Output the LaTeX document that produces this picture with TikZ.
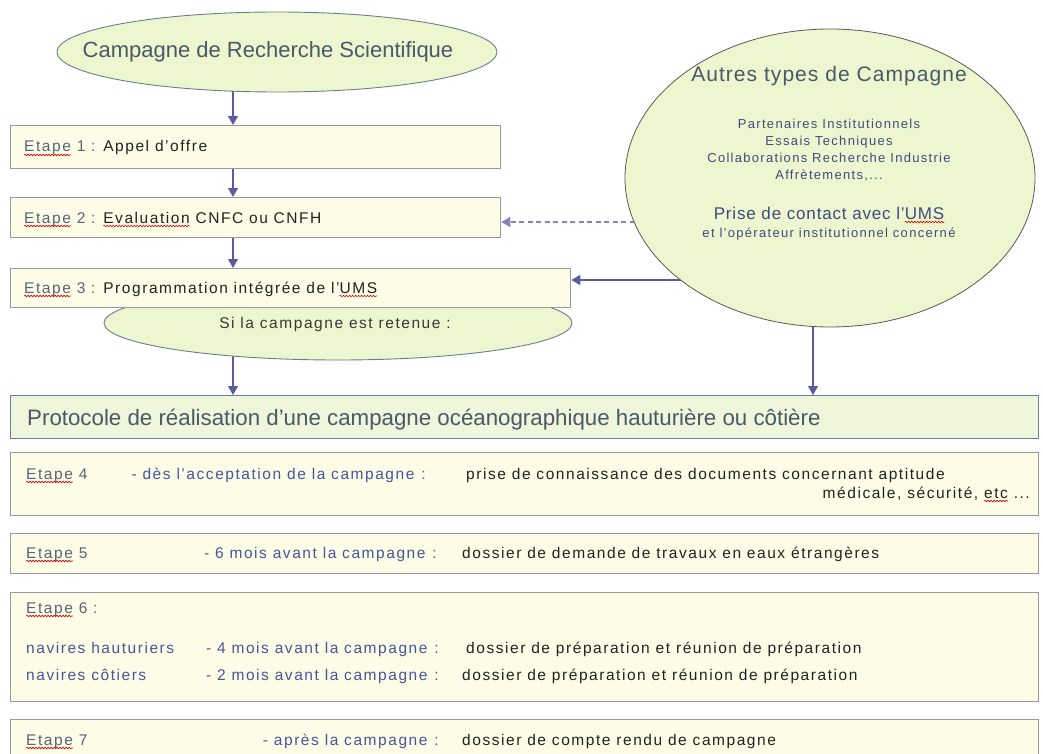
\documentclass[tikz,border=0pt]{standalone}
\usepackage{fontspec}
\setmainfont{Liberation Sans}
\newfontfamily\widefont[LetterSpace=10]{Liberation Sans}
\newfontfamily\midfont[LetterSpace=5]{Liberation Sans}
\usetikzlibrary{calc,shapes.geometric,arrows.meta,backgrounds,decorations.pathmorphing}

\definecolor{boxfill}{HTML}{FDFDE7}
\definecolor{boxline}{HTML}{9A9A9A}
\definecolor{ovalfill}{HTML}{EEF6CF}
\definecolor{ovalline}{HTML}{6E7D8C}
\definecolor{protofill}{HTML}{EFF6DC}
\definecolor{protoline}{HTML}{6D7AA6}
\definecolor{arrowcol}{HTML}{5B5B9E}
\definecolor{titletext}{HTML}{4A5868}
\definecolor{steptext}{HTML}{56657A}
\definecolor{whentext}{HTML}{46569A}
\definecolor{bodytext}{HTML}{222222}

% red wavy spell-check mark
\newsavebox\spellbox
\newlength\spellwd
\newcommand\spell[1]{\sbox\spellbox{#1}\setlength\spellwd{\wd\spellbox}%
  \rlap{\tikz[overlay]\draw[red!85!black, line width=.6pt, decorate,
    decoration={snake, amplitude=.8pt, segment length=3pt}]
    (0pt,-3pt) -- (\spellwd,-3pt);}\usebox\spellbox}
% gap before the colon of the time column
\newcommand\colgap{\hspace{7pt}:}

\tikzset{
  stepbox/.style={rectangle, draw=boxline, line width=1.3pt, fill=boxfill,
    anchor=north west, inner sep=0pt},
  protobox/.style={rectangle, draw=protoline, line width=1.1pt, fill=protofill,
    anchor=north west, inner sep=0pt},
  oval/.style={ellipse, draw=ovalline, line width=.9pt, fill=ovalfill, inner sep=0pt},
  flow/.style={draw=arrowcol, line width=1.2pt,
    -{Triangle[length=9pt,width=10pt]}},
  hint/.style={flow, draw=arrowcol!75, dash pattern=on 5pt off 3.5pt},
  big/.style={font=\fontsize{22}{26}\selectfont, text=titletext, inner sep=0pt},
  small/.style={font=\widefont\fontsize{15.5}{18}\selectfont, inner sep=0pt},
  steptxt/.style={small, text=steptext, anchor=base west},
  whentxt/.style={small, text=whentext, anchor=base east},
  whattxt/.style={small, text=bodytext, anchor=base west},
  othertxt/.style={font=\widefont\fontsize{13}{15}\selectfont, text=titletext!85!blue,
    inner sep=0pt, anchor=base}
}

\begin{document}
\begin{tikzpicture}[x=1pt,y=-1pt]
  \useasboundingbox (0,0) rectangle (1043,754);
  \coordinate (lane) at (233,0);
  \coordinate (lane2) at (813,0);

  % upper part
  \node[oval, minimum width=440pt, minimum height=80pt] (camp) at (277,52) {};
  \node[big] (camptxt) at (268,52) {Campagne de Recherche Scientifique};

  \node[oval, minimum width=468pt, minimum height=74pt] (retain) at (338,323) {};
  \node[small, text=bodytext!90, anchor=base] (retaintxt) at (335,328)
    {Si la campagne est retenue :};

  \node[stepbox, minimum width=490pt, minimum height=43pt] (s1) at (10,125) {};
  \node[stepbox, minimum width=490pt, minimum height=40pt] (s2) at (10,197) {};
  \node[stepbox, minimum width=560pt, minimum height=39pt] (s3) at (10,268) {};
  \node[steptxt] (t1) at (24,152) {\spell{Etape} 1 : \textcolor{bodytext}{Appel d’offre}};
  \node[steptxt] (t2) at (24,223)
    {\spell{Etape} 2 : \textcolor{bodytext}{\spell{Evaluation} CNFC ou CNFH}};
  \node[steptxt] (t3) at (24,293)
    {\spell{Etape} 3 : \textcolor{bodytext}{Programmation intégrée de l’\spell{UMS}}};

  % other campaigns
  \node[oval, draw=black!65, line width=.8pt, minimum width=410pt,
    minimum height=298pt] (other) at (830,178) {};
  \node[big, anchor=base, font=\midfont\fontsize{21}{25}\selectfont] (o1) at (829,82)
    {Autres types de Campagne};
  \node[othertxt] (o2) at (829,128.5) {Partenaires Institutionnels};
  \node[othertxt] (o3) at (829,145.5) {Essais Techniques};
  \node[othertxt] (o4) at (829,162.5) {Collaborations Recherche Industrie};
  \node[othertxt] (o5) at (829,179.5) {Affrètements,...};
  \node[othertxt, font=\midfont\fontsize{17}{20}\selectfont] (o6) at (829,219)
    {Prise de contact avec l’\spell{UMS}};
  \node[othertxt] (o7) at (829,237) {et l’opérateur institutionnel concerné};

  % protocol
  \node[protobox, minimum width=1028pt, minimum height=43pt] (proto) at (10,395) {};
  \node[big, anchor=base west, font=\fontsize{22.3}{26}\selectfont] (prototxt)
    at (27,425) {Protocole de réalisation d’une campagne océanographique hauturière ou côtière};

  \node[stepbox, minimum width=1028pt, minimum height=63pt] (s4) at (10,452) {};
  \node[stepbox, minimum width=1028pt, minimum height=40pt] (s5) at (10,533) {};
  \node[stepbox, minimum width=1028pt, minimum height=109pt] (s6) at (10,592) {};
  \node[stepbox, minimum width=1028pt, minimum height=60pt] (s7) at (10,719) {};

  \node[steptxt] (e4) at (26,479) {\spell{Etape} 4};
  \node[whentxt] (w4) at (426,479) {- dès l’acceptation de la campagne\colgap};
  \node[whattxt] (d4) at (466,479)
    {prise de connaissance des documents concernant aptitude};
  \node[small, text=bodytext, anchor=base east] (d4b) at (1030,498)
    {médicale, sécurité, \spell{etc} ...};

  \node[steptxt] (e5) at (26,558) {\spell{Etape} 5};
  \node[whentxt] (w5) at (437,558) {- 6 mois avant la campagne\colgap};
  \node[whattxt] (d5) at (462,558) {dossier de demande de travaux en eaux étrangères};

  \node[steptxt] (e6) at (26,613) {\spell{Etape} 6 :};
  \node[steptxt, text=whentext] (n6a) at (26,653) {navires hauturiers};
  \node[whentxt] (w6a) at (439,653) {- 4 mois avant la campagne\colgap};
  \node[whattxt] (d6a) at (466,653) {dossier de préparation et réunion de préparation};
  \node[steptxt, text=whentext] (n6b) at (26,680) {navires côtiers};
  \node[whentxt] (w6b) at (439,680) {- 2 mois avant la campagne\colgap};
  \node[whattxt] (d6b) at (462,680) {dossier de préparation et réunion de préparation};

  \node[steptxt] (e7) at (26,745) {\spell{Etape} 7};
  \node[whentxt] (w7) at (439,745) {- après la campagne\colgap};
  \node[whattxt] (d7) at (462,745) {dossier de compte rendu de campagne};

  % connectors
  \begin{scope}[on background layer]
    \draw[flow] (camp.center -| lane) -- (s1.north -| lane);
    \draw[flow] (s1.south -| lane) -- (s2.north -| lane);
    \draw[flow] (s2.south -| lane) -- (s3.north -| lane);
    \draw[flow] (retain.center -| lane) -- (proto.north -| lane);
    \draw[hint] (other.center |- 0,222) -- (s2.east |- 0,222);
    \draw[flow] (other.center |- 0,280) -- (s3.east |- 0,280);
    \draw[flow] (other.center -| lane2) -- (proto.north -| lane2);
  \end{scope}
\end{tikzpicture}
\end{document}
